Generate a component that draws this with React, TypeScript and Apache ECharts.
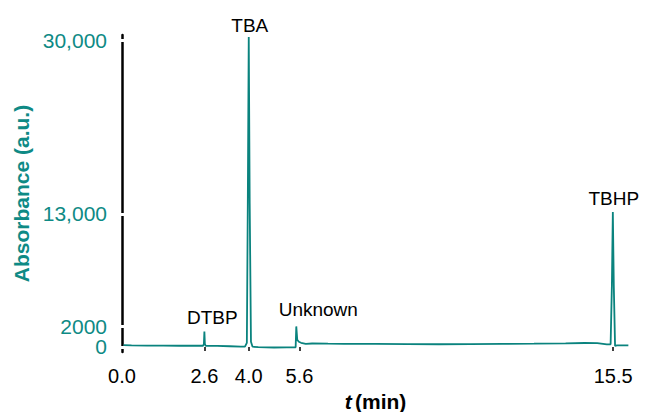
import React, { useEffect, useRef } from "react";
import * as echarts from "echarts";

// Chromatogram trace (retention time in min, absorbance in a.u.)
const times = [
  0.05, 0.3, 0.8, 1.3, 1.8, 2.3, 2.56, 2.585, 2.6, 2.615, 2.64, 3.0, 3.4, 3.75, 3.88,
  3.94, 3.97, 4.0, 4.03, 4.07, 4.12, 4.3, 4.8, 5.2, 5.48, 5.5, 5.53, 5.58, 5.65, 5.8,
  6.0, 6.5, 7.0, 8.0, 9.0, 10.0, 11.0, 12.0, 13.0, 14.0, 14.6, 15.0, 15.3, 15.42,
  15.46, 15.49, 15.52, 15.56, 15.62, 15.8, 15.98,
];
const absorbance = [
  180, 140, 120, 130, 110, 120, 110, 300, 1500, 300, 110, 90, 60, 20, 30,
  400, 14000, 30300, 14000, 500, 20, -30, -60, -50, -40, 2000, 700, 500, 400, 300,
  330, 310, 300, 290, 270, 260, 270, 290, 310, 340, 380, 360, 240, 260,
  6000, 13200, 6000, 100, 140, 150, 140,
];

// Peak annotations
const peakNames = ["DTBP", "TBA", "Unknown", "TBHP"];
const peakTimes = [2.6, 4.0, 5.5, 15.49];
const peakHeights = [1500, 30300, 2000, 13200];

// Axis ticks
const xTickValues = [0, 2.6, 4.0, 5.6, 15.5];
const xTickMarks = [2.6, 4.0, 5.6, 15.5];
const yTickValues = [0, 2000, 13000, 30000];
const yUpperLabelValues = [2000, 13000, 30000];
const yZeroLabelValues = [0];
const yTickLabels: Record<number, string> = { 0: "0", 2000: "2000", 13000: "13,000", 30000: "30,000" };

const TEAL = "#0a837e";
const TEAL_TEXT = "#0e8a85";
const FONT = "Liberation Sans, Arial, sans-serif";

const labelStyle = [
  { distance: 5, offset: [8, 0] },
  { distance: 2, offset: [1, 0] },
  { distance: 7, offset: [22, 0] },
  { distance: 4, offset: [1, 0] },
];

export default function App() {
  const ref = useRef<HTMLDivElement>(null);
  useEffect(() => {
    document.body.style.margin = "0";
    if (!ref.current) return;
    const chart = echarts.init(ref.current, undefined, { renderer: "svg" });
    const data = times.map((t, i) => [t, absorbance[i]]);
    const baseY = {
      type: "value",
      min: -500,
      max: 30500,
      position: "left",
      offset: 0,
      splitLine: { show: false },
    };
    const yLabel = (values: number[]) => ({
      customValues: values,
      formatter: (v: number) => yTickLabels[v] ?? String(v),
      fontSize: 21,
      lineHeight: 17,
      color: TEAL_TEXT,
      fontFamily: FONT,
      margin: 15,
      hideOverlap: false,
      showMinLabel: true,
      showMaxLabel: true,
    });
    const gapTick = (inside: boolean, labelValues: number[] | null) => ({
      ...baseY,
      z: 6,
      axisLine: { show: false },
      axisTick: {
        show: true,
        customValues: yTickValues,
        inside,
        length: 3,
        lineStyle: { color: "#fff", width: 3 },
      },
      axisLabel: labelValues ? yLabel(labelValues) : { show: false },
    });
    chart.setOption({
      animation: false,
      grid: { left: 122, right: 17, top: 35, bottom: 60, outerBoundsMode: "none" },
      xAxis: {
        type: "value",
        min: 0,
        max: 16,
        splitLine: { show: false },
        axisLine: { show: false },
        axisTick: {
          show: true,
          customValues: xTickMarks,
          length: 4,
          lineStyle: { color: "#000", width: 1.5 },
        },
        axisLabel: {
          customValues: xTickValues,
          formatter: (v: number) => v.toFixed(1),
          fontSize: 20,
          color: "#000",
          fontFamily: FONT,
          margin: 14,
          hideOverlap: false,
        },
        name: "{i|t} {b|(min)}",
        nameLocation: "middle",
        nameGap: 33,
        nameTextStyle: {
          rich: {
            i: { fontSize: 21, fontWeight: "bold", fontStyle: "italic", color: "#000", fontFamily: FONT },
            b: { fontSize: 21, fontWeight: "bold", color: "#000", fontFamily: FONT },
          },
        },
      },
      yAxis: [
        {
          ...baseY,
          axisLine: { show: true, lineStyle: { color: "#000", width: 2.5 } },
          axisTick: { show: false },
          axisLabel: yLabel(yUpperLabelValues),
          name: "Absorbance (a.u.)",
          nameLocation: "middle",
          nameGap: 88,
          nameTextStyle: { fontSize: 21, fontWeight: "bold", color: TEAL_TEXT, fontFamily: FONT },
        },
        gapTick(true, null),
        gapTick(false, yZeroLabelValues),
      ],
      series: [
        {
          type: "line",
          data,
          showSymbol: false,
          symbol: "none",
          lineStyle: { color: TEAL, width: 1.8 },
          itemStyle: { color: TEAL },
          z: 3,
          markPoint: {
            symbol: "circle",
            symbolSize: 0,
            data: peakNames.map((name, i) => ({
              name,
              coord: [peakTimes[i], peakHeights[i]],
              label: {
                show: true,
                formatter: name,
                position: "top",
                distance: labelStyle[i].distance,
                offset: labelStyle[i].offset,
                fontSize: 19,
                color: "#000",
                fontFamily: FONT,
              },
            })),
          },
        },
      ],
    });
    return () => chart.dispose();
  }, []);
  return <div ref={ref} style={{ position: "absolute", left: 0, top: 0, width: 646, height: 412 }} />;
}
